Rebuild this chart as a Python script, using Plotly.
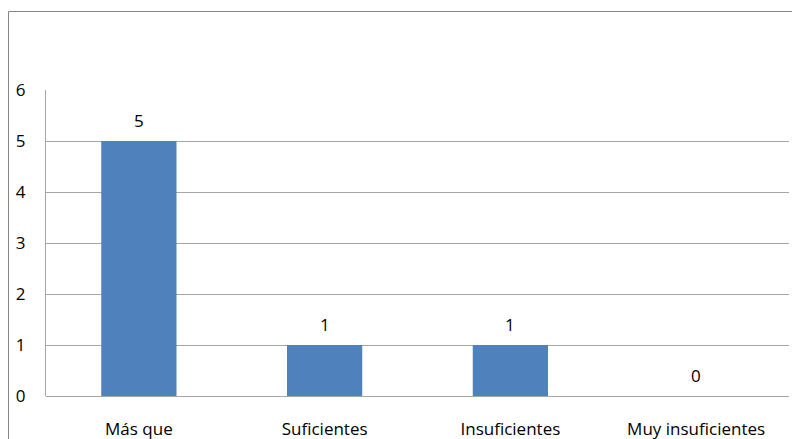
import plotly.graph_objects as go

categories = ["Más que", "Suficientes", "Insuficientes", "Muy insuficientes"]
values = [5, 1, 1, 0]
y_ticks = [0, 1, 2, 3, 4, 5, 6]

W, H = 792, 439
L, R, T, B = 46, 3, 90, 43
pw, ph = W - L - R, H - T - B

font = dict(family="Open Sans, Liberation Sans, sans-serif", size=17, color="#000000")

fig = go.Figure()
fig.add_trace(go.Bar(
    x=categories, y=values,
    marker=dict(color="#4F81BD", line=dict(width=0)),
    width=0.405,
    hoverinfo="skip",
))

annotations = []
for c, v in zip(categories, values):
    annotations.append(dict(x=c, y=v, xref="x", yref="y", text=str(v),
                            showarrow=False, yanchor="bottom", yshift=7, font=font))

fig.update_layout(
    width=W, height=H,
    margin=dict(l=L, r=R, t=T, b=B),
    paper_bgcolor="white", plot_bgcolor="white",
    showlegend=False,
    font=font,
    annotations=annotations,
    shapes=[dict(type="rect", xref="paper", yref="paper",
                 x0=(8.5 - L) / pw, x1=(W + 10 - L) / pw,
                 y0=-(H + 10 - (T + ph)) / ph, y1=1 + (T - 11.5) / ph,
                 line=dict(color="#868686", width=1), fillcolor="rgba(0,0,0,0)",
                 layer="below")],
    xaxis=dict(showgrid=False, showline=False, zeroline=False, automargin=False,
               ticks="outside", ticklen=18, tickcolor="rgba(0,0,0,0)",
               tickfont=font, range=[-0.5, 3.5]),
    yaxis=dict(range=[0, 6], tickvals=y_ticks, showgrid=True, gridcolor="#A6A6A6",
               gridwidth=1, zeroline=True, zerolinecolor="#A6A6A6", zerolinewidth=1,
               showline=True, linecolor="#A6A6A6", linewidth=1, automargin=False,
               ticks="outside", ticklen=16, tickcolor="rgba(0,0,0,0)", tickfont=font),
)

fig.write_html("out.html", config={"displayModeBar": False},
               post_script="document.body.style.margin='0';document.body.style.overflow='hidden';")
